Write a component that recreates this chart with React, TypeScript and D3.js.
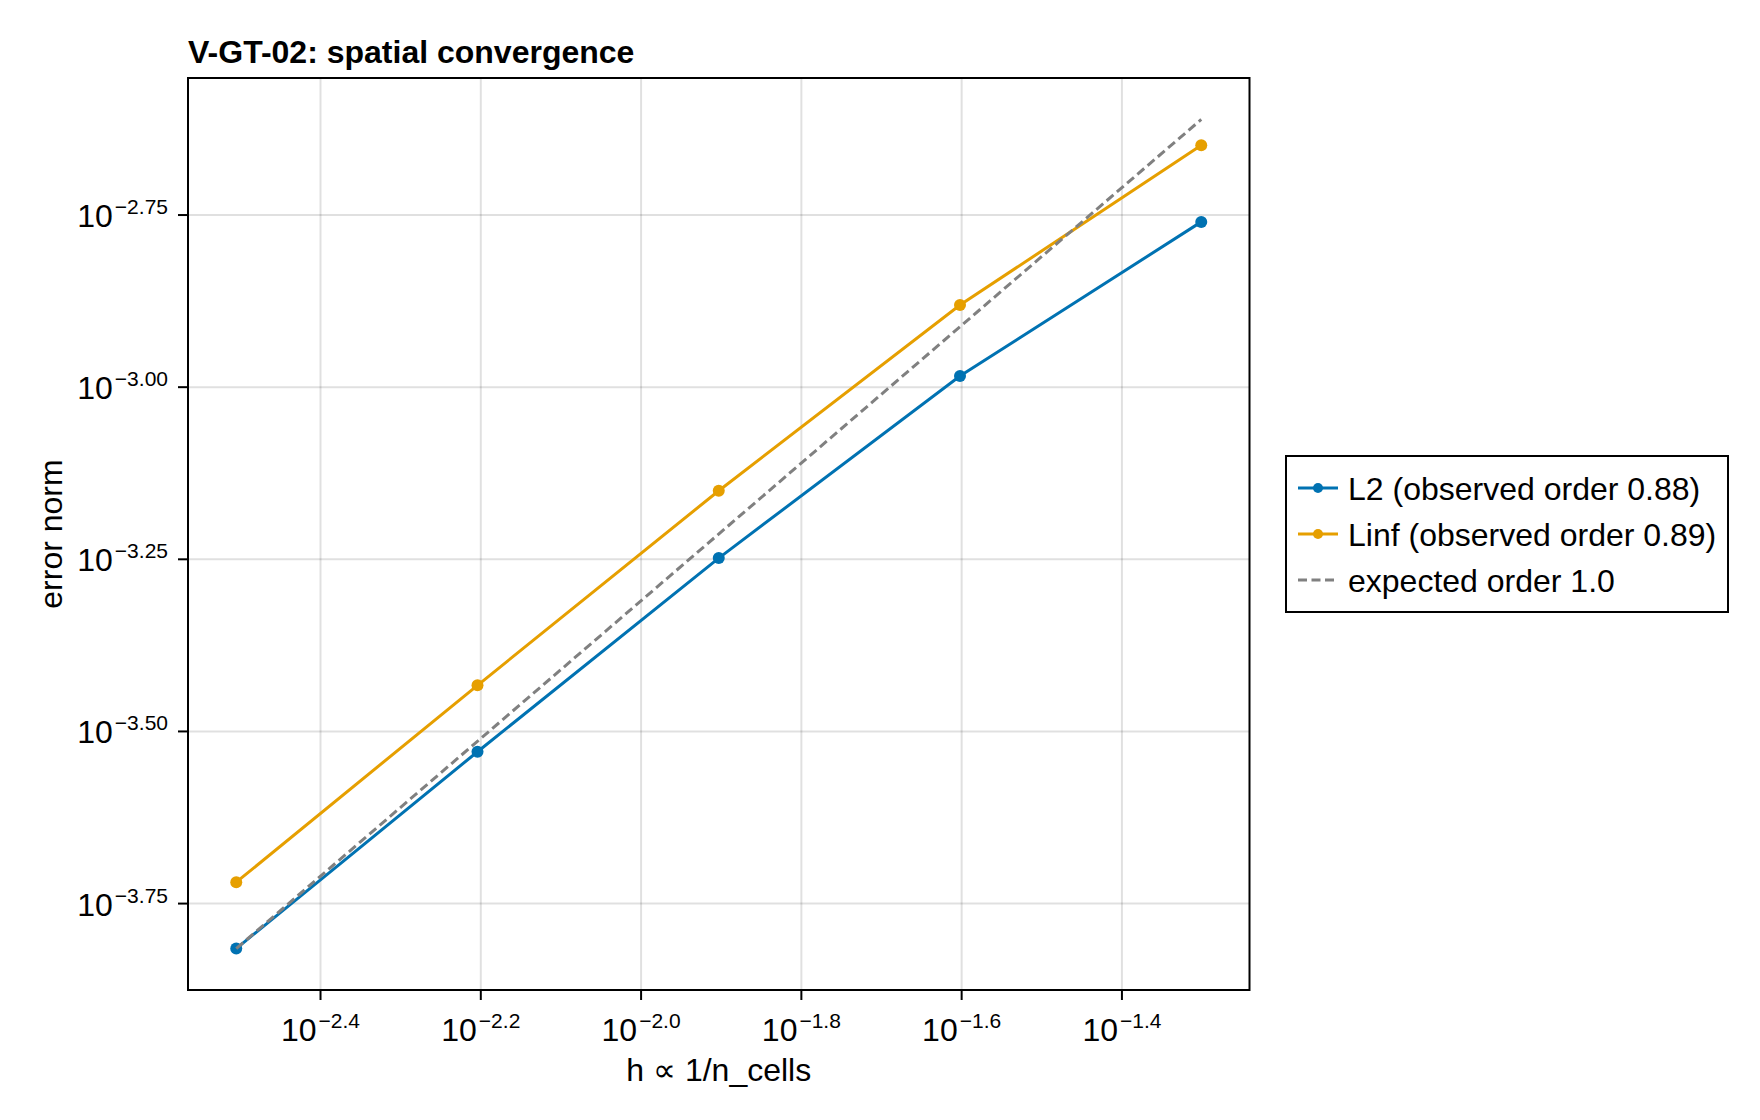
import * as d3 from 'd3';
import React from 'react';

// grid resolution and measured error norms
const nCells = [320, 160, 80, 40, 20];
const errL2 = [1.53e-4, 2.955e-4, 5.646e-4, 1.038e-3, 1.738e-3];
const errLinf = [1.91e-4, 3.69e-4, 7.073e-4, 1.316e-3, 2.245e-3];
const expectedOrder = 1.0;

const seriesLabels = ['L2 (observed order 0.88)', 'Linf (observed order 0.89)', 'expected order 1.0'];

const xTickExps = [-2.4, -2.2, -2.0, -1.8, -1.6, -1.4];
const xTickLabels = ['−2.4', '−2.2', '−2.0', '−1.8', '−1.6', '−1.4'];
const yTickExps = [-3.75, -3.5, -3.25, -3.0, -2.75];
const yTickLabels = ['−3.75', '−3.50', '−3.25', '−3.00', '−2.75'];

const BLUE = '#0072b2';
const ORANGE = '#e69f00';
const GRAY = '#808080';
const FONT = '"Liberation Sans", Arial, Helvetica, sans-serif';

const W = 1760;
const H = 1120;
const plot = { left: 188, right: 1249.5, top: 78, bottom: 990 };

// pad a log-scale extent by 5% of its width in decades
const padLog = (vals: number[]): [number, number] => {
  const lo = Math.log10(d3.min(vals)!);
  const hi = Math.log10(d3.max(vals)!);
  const pad = (hi - lo) * 0.05;
  return [Math.pow(10, lo - pad), Math.pow(10, hi + pad)];
};

export default function App() {
  const h = nCells.map(n => 1 / n);
  const errRef = h.map(v => errL2[0] * Math.pow(v / h[0], expectedOrder));

  const xScale = d3.scaleLog().domain(padLog(h)).range([plot.left, plot.right]);
  const yScale = d3
    .scaleLog()
    .domain(padLog([...errL2, ...errLinf, errRef[0], errRef[errRef.length - 1]]))
    .range([plot.bottom, plot.top]);

  const line = d3
    .line<[number, number]>()
    .x(d => xScale(d[0]))
    .y(d => yScale(d[1]));

  const pts = (ys: number[]) => h.map((v, i) => [v, ys[i]] as [number, number]);
  const refPts: [number, number][] = [
    [h[0], errRef[0]],
    [h[h.length - 1], errRef[errRef.length - 1]],
  ];

  const series = [
    { ys: errL2, color: BLUE },
    { ys: errLinf, color: ORANGE },
  ];

  const legend = { x: 1286, y: 456, w: 442, h: 156, row: 46 };
  const legendColors = [BLUE, ORANGE, GRAY];

  return (
    <svg
      width={W}
      height={H}
      style={{ position: 'absolute', left: 0, top: 0, background: '#fff' }}
      fontFamily={FONT}
    >
      <rect x={0} y={0} width={W} height={H} fill="#fff" />

      <text x={plot.left} y={63} fontSize={32} fontWeight="bold" fill="#000">
        V-GT-02: spatial convergence
      </text>

      {/* grid */}
      <g stroke="#000" strokeOpacity={0.12} strokeWidth={2}>
        {xTickExps.map(e => (
          <line key={e} x1={xScale(10 ** e)} x2={xScale(10 ** e)} y1={plot.top} y2={plot.bottom} />
        ))}
        {yTickExps.map(e => (
          <line key={e} x1={plot.left} x2={plot.right} y1={yScale(10 ** e)} y2={yScale(10 ** e)} />
        ))}
      </g>

      {/* series */}
      {series.map(s => (
        <g key={s.color}>
          <path d={line(pts(s.ys)) ?? ''} fill="none" stroke={s.color} strokeWidth={3} />
          {pts(s.ys).map(p => (
            <circle key={p[0]} cx={xScale(p[0])} cy={yScale(p[1])} r={6} fill={s.color} />
          ))}
        </g>
      ))}
      <path
        d={line(refPts) ?? ''}
        fill="none"
        stroke={GRAY}
        strokeWidth={3}
        strokeDasharray="9 4.5"
      />

      {/* frame */}
      <rect
        x={plot.left}
        y={plot.top}
        width={plot.right - plot.left}
        height={plot.bottom - plot.top}
        fill="none"
        stroke="#000"
        strokeWidth={2}
      />

      {/* x axis */}
      {xTickExps.map((e, i) => {
        const x = xScale(10 ** e);
        return (
          <g key={e}>
            <line x1={x} x2={x} y1={plot.bottom} y2={plot.bottom + 10} stroke="#000" strokeWidth={2} />
            <text x={x} y={1041} textAnchor="middle" fontSize={32} fill="#000">
              <tspan>10</tspan>
              <tspan dx={2} dy={-13} fontSize={21}>
                {xTickLabels[i]}
              </tspan>
            </text>
          </g>
        );
      })}
      <text x={(plot.left + plot.right) / 2} y={1081} textAnchor="middle" fontSize={32} fill="#000">
        h ∝ 1/n_cells
      </text>

      {/* y axis */}
      {yTickExps.map((e, i) => {
        const y = yScale(10 ** e);
        return (
          <g key={e}>
            <line x1={plot.left - 10} x2={plot.left} y1={y} y2={y} stroke="#000" strokeWidth={2} />
            <text x={168} y={y + 12} textAnchor="end" fontSize={32} fill="#000">
              <tspan>10</tspan>
              <tspan dx={2} dy={-13} fontSize={21}>
                {yTickLabels[i]}
              </tspan>
            </text>
          </g>
        );
      })}
      <text
        transform={`translate(62,${(plot.top + plot.bottom) / 2}) rotate(-90)`}
        textAnchor="middle"
        fontSize={32}
        fill="#000"
      >
        error norm
      </text>

      {/* legend */}
      <rect
        x={legend.x}
        y={legend.y}
        width={legend.w}
        height={legend.h}
        fill="#fff"
        stroke="#000"
        strokeWidth={2}
      />
      {seriesLabels.map((label, i) => {
        const cy = legend.y + 32 + i * legend.row;
        const dashed = i === 2;
        return (
          <g key={label}>
            <line
              x1={legend.x + 12}
              x2={legend.x + 52}
              y1={cy}
              y2={cy}
              stroke={legendColors[i]}
              strokeWidth={3}
              strokeDasharray={dashed ? '9 4.5' : undefined}
            />
            {!dashed && <circle cx={legend.x + 32} cy={cy} r={5} fill={legendColors[i]} />}
            <text x={legend.x + 62} y={cy + 11.5} fontSize={32} fill="#000">
              {label}
            </text>
          </g>
        );
      })}
    </svg>
  );
}
